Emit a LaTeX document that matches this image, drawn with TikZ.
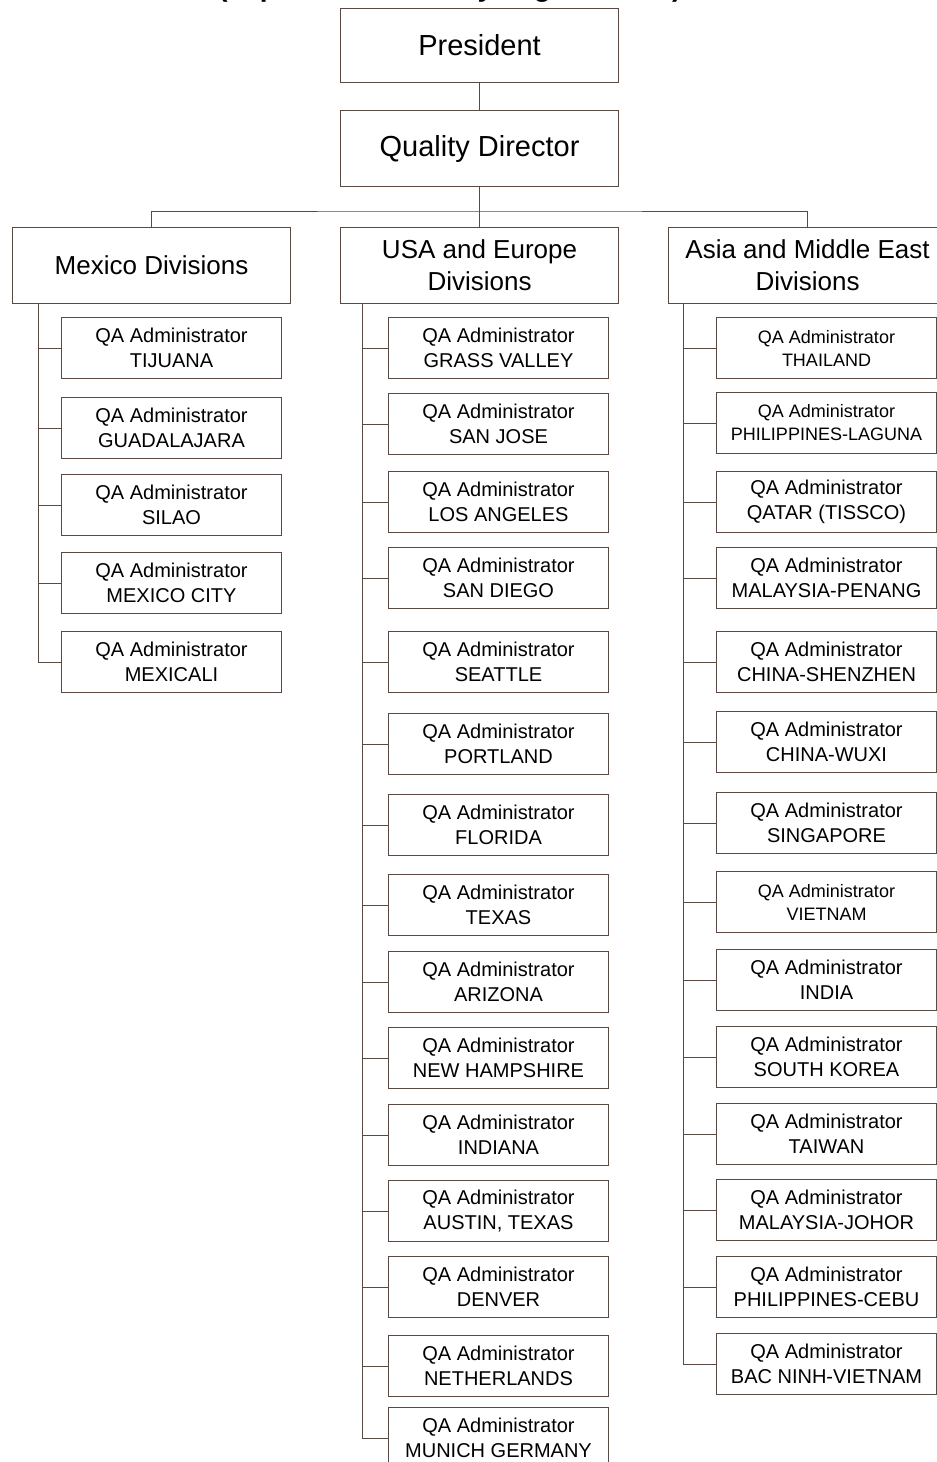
\documentclass[tikz,border=0pt]{standalone}
\usepackage{fontspec}
\setmainfont{Liberation Sans}
\usetikzlibrary{positioning}
\definecolor{linec}{RGB}{88,74,66}

\begin{document}
\begin{tikzpicture}[x=1pt, y=-1pt,
    topbox/.style={draw=linec, line width=1.1pt, minimum width=278, minimum height=76,
                   inner sep=0, anchor=north west, align=center,
                   font=\fontsize{29}{33}\selectfont},
    divbox/.style={topbox, font=\fontsize{26}{32}\selectfont},
    qabox/.style={draw=linec, line width=1pt, minimum width=220, minimum height=61,
                  inner sep=0, anchor=north west, align=center,
                  font=\fontsize{20}{25}\selectfont},
    qanorm/.style={},
    qasmall/.style={font=\fontsize{18}{23}\selectfont},
    link/.style={draw=linec, line width=0.8pt}]
    \useasboundingbox (0,0) rectangle (937,1462);
    \node[anchor=base, font=\bfseries\fontsize{28}{32}\selectfont] (title) at (450,-4)
        {(Top Level Hierarchy Organization)};
    \node[topbox, minimum height=74] (pres) at (340,8) {President};
    \node[topbox] (qdir) at (340,110) {Quality Director};
    \node[divbox] (mex) at (12,227) {Mexico Divisions};
    \node[divbox] (usa) at (340,227) {USA and Europe\\Divisions};
    \node[divbox] (asia) at (668,227) {Asia and Middle East\\Divisions};
    \coordinate (bar) at (480,211);
    \coordinate (mspine) at (38,303);
    \coordinate (uspine) at (362,303);
    \coordinate (aspine) at (683,303);
    \draw[link] (pres) -- (qdir)
                (qdir) -- (usa)
                (mex) |- (bar) -| (asia);
    \foreach \n/\y/\t in {m1/317/TIJUANA, m2/397/GUADALAJARA, m3/474/SILAO,
                          m4/552/MEXICO CITY, m5/631/MEXICALI} {
        \node[qabox] (\n) at (61,\y) {QA Administrator\\\t};
        \draw[link] (mspine) |- (\n.west);
    }
    \foreach \n/\y/\t in {u1/317/GRASS VALLEY, u2/393/SAN JOSE, u3/471/LOS ANGELES,
                          u4/547/SAN DIEGO, u5/631/SEATTLE, u6/713/PORTLAND,
                          u7/794/FLORIDA, u8/874/TEXAS, u9/951/ARIZONA,
                          u10/1027/NEW HAMPSHIRE, u11/1104/INDIANA,
                          u12/1180/{AUSTIN, TEXAS}, u13/1256/DENVER,
                          u14/1335/NETHERLANDS, u15/1407/MUNICH GERMANY} {
        \node[qabox] (\n) at (388,\y) {QA Administrator\\\t};
        \draw[link] (uspine) |- (\n.west);
    }
    \foreach \n/\y/\s/\t in {a1/317/qasmall/THAILAND, a2/392/qasmall/PHILIPPINES-LAGUNA,
                             a3/471/qanorm/QATAR (TISSCO), a4/547/qanorm/MALAYSIA-PENANG,
                             a5/631/qanorm/CHINA-SHENZHEN, a6/711/qanorm/CHINA-WUXI,
                             a7/792/qanorm/SINGAPORE, a8/871/qasmall/VIETNAM,
                             a9/949/qanorm/INDIA, a10/1026/qanorm/SOUTH KOREA,
                             a11/1103/qanorm/TAIWAN, a12/1179/qanorm/MALAYSIA-JOHOR,
                             a13/1256/qanorm/PHILIPPINES-CEBU,
                             a14/1333/qanorm/BAC NINH-VIETNAM} {
        \node[qabox, \s] (\n) at (716,\y) {QA Administrator\\\t};
        \draw[link] (aspine) |- (\n.west);
    }
\end{tikzpicture}
\end{document}
